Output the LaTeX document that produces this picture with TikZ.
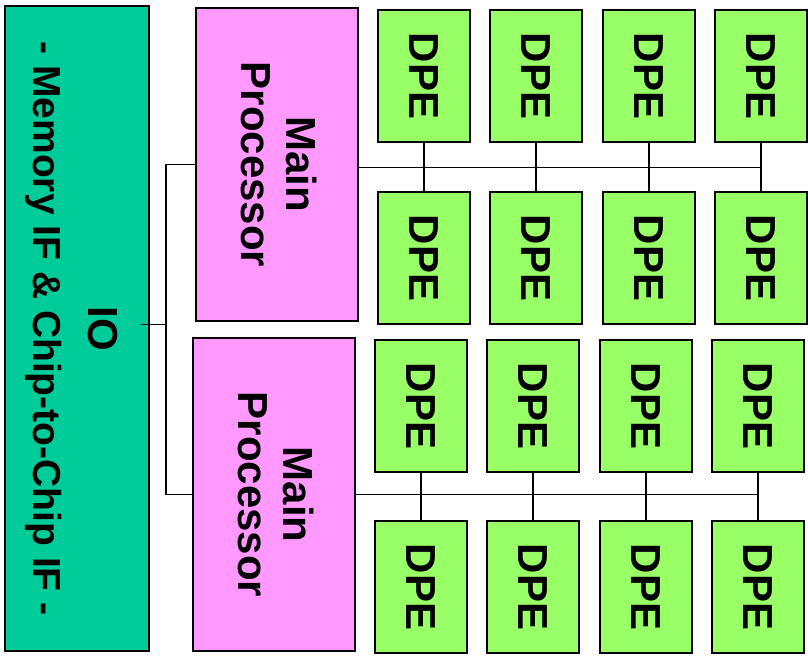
\documentclass[tikz,border=0pt]{standalone}
\usepackage{fontspec}
\setmainfont{Liberation Sans}
\definecolor{iogreen}{HTML}{00CC99}
\definecolor{mppink}{HTML}{FF99FF}
\definecolor{dpegreen}{HTML}{99FF66}
\newcommand{\vtext}[2][12pt]{\kern-#1\rotatebox{-90}{\begin{tabular}{@{}c@{}}#2\end{tabular}}}
\begin{document}
\begin{tikzpicture}[x=1pt,y=1pt,
  blk/.style={draw=black, line width=1.6pt, inner sep=0pt},
  dpe/.style={blk, fill=dpegreen, minimum width=92pt, minimum height=132pt,
    font=\fontsize{42}{46}\selectfont\bfseries},
  mp/.style={blk, fill=mppink, minimum width=162pt, minimum height=313pt,
    font=\fontsize{42}{45}\selectfont\bfseries},
  iobox/.style={blk, fill=iogreen, minimum width=144pt, minimum height=645pt,
    font=\fontsize{39}{55}\selectfont\bfseries},
  wire/.style={line width=1.4pt}]
\useasboundingbox (0,0) rectangle (808,656);

\node[iobox] (io) at (77,327.5) {\vtext[10pt]{{\fontsize{42}{55}\selectfont IO}\\- Memory IF \& Chip-to-Chip IF -}};
\node[mp] (mp1) at (277,491.5) {\vtext[8pt]{Main\\Processor}};
\node[mp] (mp2) at (274,161.5) {\vtext[8pt]{Main\\Processor}};

\foreach \c/\x in {1/424,2/536,3/649,4/761}{
  \node[dpe] (d1\c) at (\x,580) {\rotatebox{-90}{DPE}};
  \node[dpe] (d2\c) at (\x,398) {\rotatebox{-90}{DPE}};
}
\foreach \c/\x in {1/421,2/533,3/646,4/758}{
  \node[dpe] (d3\c) at (\x,250) {\rotatebox{-90}{DPE}};
  \node[dpe] (d4\c) at (\x,69) {\rotatebox{-90}{DPE}};
}

\coordinate (br) at (166,331.5);
\draw[wire] (mp1.west) -- (mp1.west -| br) -- (mp2.west -| br) -- (mp2.west);
\draw[wire] ([xshift=-9pt,yshift=4pt]io.east) -- (br);

\draw[wire] ([yshift=-3pt]mp1.east) -- ([yshift=-3pt]mp1.east -| d14.south);
\foreach \c in {1,2,3,4}{
  \draw[wire] (d1\c.south) -- (d2\c.north);
  \draw[wire] (d3\c.south) -- (d4\c.north);
}
\draw[wire] (mp2.east) -- (mp2.east -| d34.south);
\end{tikzpicture}
\end{document}
